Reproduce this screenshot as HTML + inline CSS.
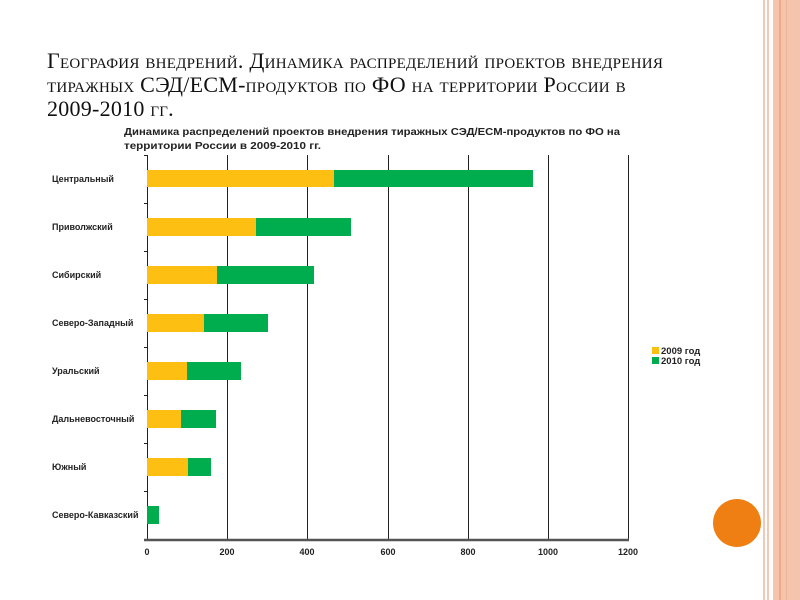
<!DOCTYPE html>
<html><head><meta charset="utf-8"><style>
body{margin:0;width:800px;height:600px;background:#fff;position:relative;overflow:hidden;font-family:"Liberation Sans",sans-serif}
.t{position:absolute;left:47px;top:49px;font-family:"Liberation Serif",serif;font-variant:small-caps;font-size:22px;line-height:24px;color:#111;letter-spacing:0.25px;white-space:nowrap}
.a{position:absolute}
</style></head><body>
<div class="a" style="left:763px;top:0;width:2px;height:600px;background:#f3c8b6"></div>
<div class="a" style="left:767px;top:0;width:2px;height:600px;background:#f3c8b6"></div>
<div class="a" style="left:773px;top:0;width:27px;height:600px;background:#f5c4ad"></div>
<div class="a" style="left:779px;top:0;width:2px;height:600px;background:#eda98a"></div>
<div class="a" style="left:786px;top:0;width:1px;height:600px;background:#eeb497"></div>
<div class="a" style="left:713px;top:499px;width:48px;height:48px;border-radius:50%;background:#ef7f12"></div>
<div class="t">География внедрений. Динамика распределений проектов внедрения<br>тиражных СЭД/ECM-продуктов по ФО на территории России в<br>2009-2010 гг.</div>
<svg class="a" style="left:0;top:0" width="800" height="600" font-family="Liberation Sans, sans-serif">
<text x="124" y="135" font-size="10" font-weight="bold" fill="#222" textLength="496" lengthAdjust="spacingAndGlyphs">Динамика распределений проектов внедрения тиражных СЭД/ECM-продуктов по ФО на</text>
<text x="124" y="149" font-size="10" font-weight="bold" fill="#222" textLength="197" lengthAdjust="spacingAndGlyphs">территории России в 2009-2010 гг.</text>
<g stroke="#222" stroke-width="1">
<line x1="227.5" y1="155" x2="227.5" y2="540"/><line x1="307.5" y1="155" x2="307.5" y2="540"/><line x1="388.5" y1="155" x2="388.5" y2="540"/><line x1="468.5" y1="155" x2="468.5" y2="540"/><line x1="548.5" y1="155" x2="548.5" y2="540"/><line x1="628.5" y1="155" x2="628.5" y2="540"/>
<line x1="147.5" y1="155" x2="147.5" y2="541"/>
<line x1="144" y1="155.5" x2="147" y2="155.5"/><line x1="144" y1="203.5" x2="147" y2="203.5"/><line x1="144" y1="251.5" x2="147" y2="251.5"/><line x1="144" y1="299.5" x2="147" y2="299.5"/><line x1="144" y1="347.5" x2="147" y2="347.5"/><line x1="144" y1="395.5" x2="147" y2="395.5"/><line x1="144" y1="443.5" x2="147" y2="443.5"/><line x1="144" y1="491.5" x2="147" y2="491.5"/>
</g>
<line x1="144" y1="540" x2="629" y2="540" stroke="#555" stroke-width="2.5"/>
<g fill="#fdbf12">
<rect x="147" y="170" width="187" height="17"/><rect x="147" y="218" width="109" height="18"/><rect x="147" y="266" width="70" height="18"/><rect x="147" y="314" width="57" height="18"/><rect x="147" y="362" width="40" height="18"/><rect x="147" y="410" width="34" height="18"/><rect x="147" y="458" width="41" height="18"/>
</g>
<g fill="#00ad4e">
<rect x="334" y="170" width="199" height="17"/><rect x="256" y="218" width="95" height="18"/><rect x="217" y="266" width="97" height="18"/><rect x="204" y="314" width="64" height="18"/><rect x="187" y="362" width="54" height="18"/><rect x="181" y="410" width="35" height="18"/><rect x="188" y="458" width="23" height="18"/><rect x="147" y="506" width="12" height="18"/>
</g>
<g font-size="9" font-weight="bold" fill="#222">
<text x="52" y="182">Центральный</text><text x="52" y="230">Приволжский</text><text x="52" y="278">Сибирский</text><text x="52" y="326">Северо-Западный</text><text x="52" y="374">Уральский</text><text x="52" y="422">Дальневосточный</text><text x="52" y="470">Южный</text><text x="52" y="518">Северо-Кавказский</text>
</g>
<g font-size="9" font-weight="bold" fill="#222" text-anchor="middle">
<text x="147" y="555">0</text><text x="227" y="555">200</text><text x="307" y="555">400</text><text x="388" y="555">600</text><text x="468" y="555">800</text><text x="548" y="555">1000</text><text x="628" y="555">1200</text>
</g>
<rect x="652" y="347" width="7" height="7" fill="#fdbf12"/><rect x="652" y="357" width="7" height="7" fill="#00ad4e"/>
<text x="661" y="354" font-size="9.5" font-weight="bold" fill="#222">2009 год</text>
<text x="661" y="364" font-size="9.5" font-weight="bold" fill="#222">2010 год</text>
</svg>
</body></html>
